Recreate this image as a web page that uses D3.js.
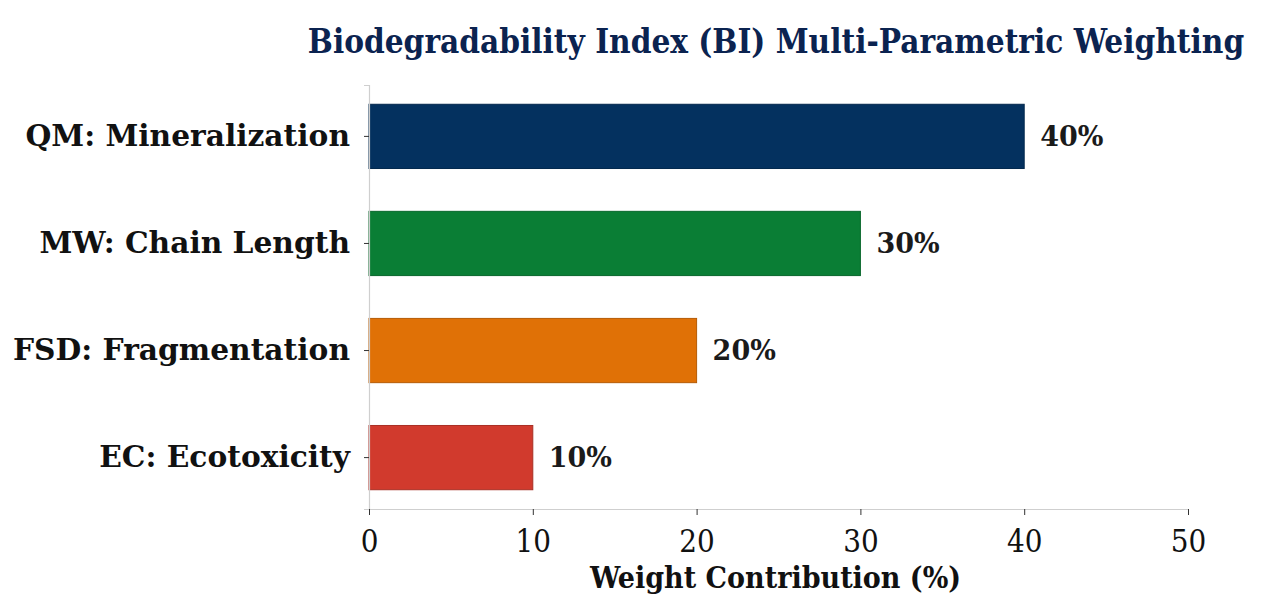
<!DOCTYPE html>
<html><head><meta charset="utf-8">
<script src="https://cdn.jsdelivr.net/npm/d3@7"></script>
<style>
html,body{margin:0;padding:0;background:#fff;}
svg{display:block;}
</style></head>
<body>
<svg id="chart" width="1275" height="610"></svg>
<script>
const categories = ["QM: Mineralization", "MW: Chain Length", "FSD: Fragmentation", "EC: Ecotoxicity"];
const weights = [40, 30, 20, 10];
const valueLabels = ["40%", "30%", "20%", "10%"];
const barColors = ["#04315f", "#0a7e35", "#e07106", "#d13a2d"];
const xTicks = [0, 10, 20, 30, 40, 50];
const titleText = "Biodegradability Index (BI) Multi-Parametric Weighting";
const xLabelText = "Weight Contribution (%)";

(function () {
const svg = d3.select("#chart");
const mLeft = 369, mRight = 1188, mTop = 85, mBottom = 509;

const x = d3.scaleLinear().domain([0, 50]).range([mLeft, mRight]);
const y = d3.scaleBand().domain(categories).range([mTop, mBottom]).paddingInner(0.4).paddingOuter(0.18);

// bars
svg.append("g").selectAll("rect").data(categories).join("rect")
  .attr("x", x(0))
  .attr("y", d => y(d))
  .attr("width", (d, i) => x(weights[i]) - x(0))
  .attr("height", y.bandwidth())
  .attr("fill", (d, i) => barColors[i])
  .attr("stroke", (d, i) => d3.color(barColors[i]).darker(0.6))
  .attr("stroke-width", 1);

// value labels
svg.append("g").selectAll("text").data(categories).join("text")
  .attr("x", (d, i) => x(weights[i]) + 16)
  .attr("y", d => y(d) + y.bandwidth() / 2)
  .attr("dy", "0.35em")
  .attr("font-family", "DejaVu Serif")
  .attr("font-weight", "bold")
  .attr("font-size", 27)
  .attr("fill", "#1a1a1a")
  .text((d, i) => valueLabels[i]);

// y axis
const yAxis = svg.append("g").attr("transform", `translate(${mLeft},0)`)
  .call(d3.axisLeft(y).tickSize(5).tickPadding(14));
yAxis.select(".domain").attr("stroke", "#cfcfcf").attr("stroke-width", 1.2);
yAxis.selectAll(".tick line").attr("stroke", "#333");
yAxis.selectAll(".tick text")
  .attr("font-family", "DejaVu Serif")
  .attr("font-weight", "bold")
  .attr("font-size", 29.7)
  .attr("fill", "#111");

// x axis
const xAxis = svg.append("g").attr("transform", `translate(0,${mBottom})`)
  .call(d3.axisBottom(x).tickValues(xTicks).tickSize(6).tickPadding(15).tickSizeOuter(0));
xAxis.select(".domain").attr("stroke", "#cfcfcf").attr("stroke-width", 1.2);
xAxis.selectAll(".tick line").attr("stroke", "#333");
xAxis.selectAll(".tick text")
  .attr("font-family", "DejaVu Serif")
  .attr("font-stretch", "condensed")
  .attr("font-size", 31)
  .attr("fill", "#111");

// x label
svg.append("text")
  .attr("x", (mLeft + mRight) / 2 - 3)
  .attr("y", 588)
  .attr("text-anchor", "middle")
  .attr("font-family", "DejaVu Serif")
  .attr("font-stretch", "condensed")
  .attr("font-weight", "bold")
  .attr("font-size", 30)
  .attr("fill", "#111")
  .text(xLabelText);

// title
svg.append("text")
  .attr("x", 776)
  .attr("y", 53)
  .attr("text-anchor", "middle")
  .attr("font-family", "DejaVu Serif")
  .attr("font-stretch", "condensed")
  .attr("font-weight", "bold")
  .attr("font-size", 33)
  .attr("fill", "#0b2350")
  .text(titleText);
})();
</script>
</body></html>
